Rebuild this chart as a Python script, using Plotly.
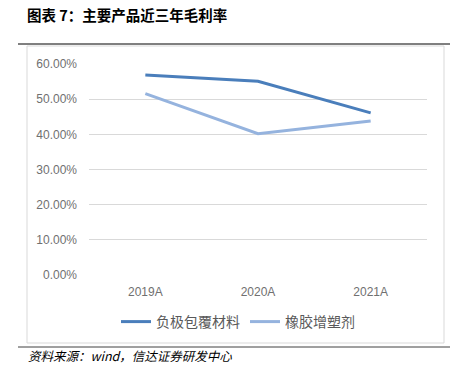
import plotly.graph_objects as go

categories = ["2019A", "2020A", "2021A"]
series_names = ["负极包覆材料", "橡胶增塑剂"]
anode_coating = [56.9, 55.1, 46.1]
rubber_plasticizer = [51.6, 40.2, 43.8]
y_ticks = [0, 10, 20, 30, 40, 50, 60]
y_tick_labels = ["0.00%", "10.00%", "20.00%", "30.00%", "40.00%", "50.00%", "60.00%"]

W, H = 457, 378
L, R, T, B = 89, 427, 64, 275

def px(x):
    return (x - L) / (R - L)

def py(y):
    return (B - y) / (B - T)

fig = go.Figure()
fig.add_trace(go.Scatter(x=categories, y=anode_coating, name=series_names[0], mode="lines",
                         line=dict(color="#4A7EBB", width=3)))
fig.add_trace(go.Scatter(x=categories, y=rubber_plasticizer, name=series_names[1], mode="lines",
                         line=dict(color="#95B3DE", width=3)))

fig.update_layout(
    width=W, height=H,
    margin=dict(l=L, r=W - R, t=T, b=H - B, pad=0, autoexpand=False),
    paper_bgcolor="white", plot_bgcolor="white",
    title=dict(text="<b>图表 7：主要产品近三年毛利率</b>", xref="container", yref="container",
               x=27 / W, xanchor="left", y=1 - 16 / H, yanchor="middle", automargin=False,
               font=dict(family="Noto Sans CJK SC", size=14.5, color="#000000")),
    xaxis=dict(type="category", range=[-0.5, 2.5], showgrid=False, zeroline=False, showline=False,
               ticks="", ticklabelstandoff=8, automargin=False,
               tickfont=dict(family="Liberation Sans", size=12, color="#707070")),
    yaxis=dict(range=[0, 60], tickmode="array", tickvals=y_ticks, ticktext=y_tick_labels,
               showgrid=True, gridcolor="#D9D9D9", gridwidth=1, zeroline=False, showline=False,
               ticks="", ticklabelstandoff=11, automargin=False,
               tickfont=dict(family="Liberation Sans", size=12, color="#707070")),
    showlegend=True,
    legend=dict(orientation="h", x=px(238), xanchor="center", y=py(322), yanchor="middle",
                font=dict(family="Noto Sans CJK SC", size=14, color="#595959"),
                itemwidth=30, tracegroupgap=0),
)

# chart frame
fig.add_shape(type="rect", xref="paper", yref="paper",
              x0=px(27), x1=px(444), y0=py(343), y1=py(46),
              line=dict(color="#D9D9D9", width=1), layer="below")
# top and bottom rules
fig.add_shape(type="line", xref="paper", yref="paper", x0=px(18), x1=px(450), y0=py(44), y1=py(44),
              line=dict(color="#000000", width=1))
fig.add_shape(type="line", xref="paper", yref="paper", x0=px(18), x1=px(450), y0=py(347), y1=py(347),
              line=dict(color="#404040", width=1))

fig.add_annotation(text="<i>资料来源：wind，信达证券研发中心</i>", xref="paper", yref="paper",
                   x=px(27), y=py(355), xanchor="left", yanchor="middle", showarrow=False,
                   borderpad=0,
                   font=dict(family="Noto Sans CJK SC", size=12.5, color="#000000"))

fig.write_html("out.html", config={"displayModeBar": False},
               post_script="document.body.style.margin='0';document.body.style.overflow='hidden';")
